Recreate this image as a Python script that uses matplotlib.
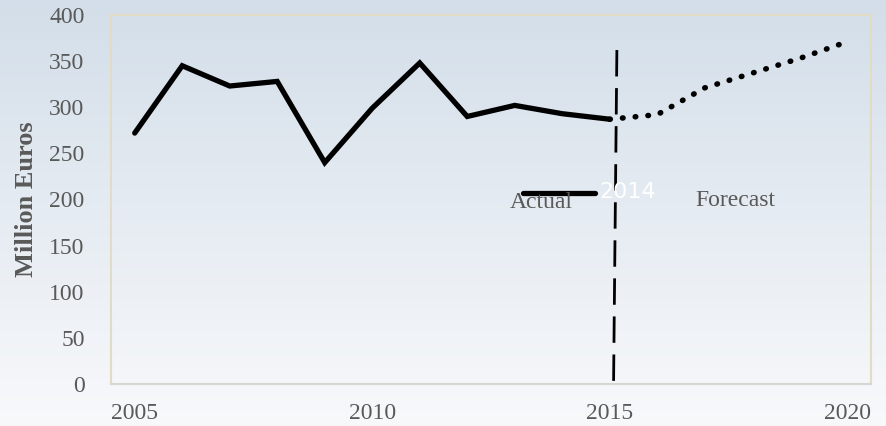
import numpy as np
import matplotlib.pyplot as plt

years_actual = [2005, 2006, 2007, 2008, 2009, 2010, 2011, 2012, 2013, 2014, 2015]
actual = [272, 345, 323, 328, 240, 299, 348, 290, 302, 293, 287]
years_forecast = [2015, 2016, 2017, 2018, 2019, 2020]
forecast = [287, 292, 321, 337, 353, 371]
xticks = [2005, 2010, 2015, 2020]
yticks = [0, 50, 100, 150, 200, 250, 300, 350, 400]

plt.rcParams['font.family'] = ['Liberation Serif', 'DejaVu Serif']

fig = plt.figure(figsize=(8.87, 4.26), dpi=100)

# gradient background over whole figure
bg = fig.add_axes([0, 0, 1, 1], zorder=-10)
grad = np.linspace(0, 1, 256).reshape(-1, 1)
top = np.array([0.827, 0.871, 0.914])
bot = np.array([0.973, 0.976, 0.984])
img = top + (bot - top) * grad[:, :, None]
bg.imshow(img, aspect='auto', extent=[0, 1, 0, 1])
bg.axis('off')

ax = fig.add_axes([0.1251, 0.0986, 0.8569, 0.8662])
ax.patch.set_alpha(0)

ax.plot(years_actual, actual, color='black', lw=3.8, solid_joinstyle='miter',
        solid_capstyle='round')
ax.plot(years_forecast, forecast, color='black', lw=4.0,
        linestyle=(0, (0.1, 2.2)), dash_capstyle='round')

# divider between actual and forecast
ax.plot([2015.15, 2015.08], [362, 0], color='black', lw=2.0,
        linestyle=(0, (9.5, 4.2)), dash_capstyle='butt')

# legend-like annotations
ax.plot([2013.17, 2014.68], [207, 207], color='black', lw=3.8,
        solid_capstyle='round')
ax.text(2013.55, 197, 'Actual', ha='center', va='center', fontsize=17,
        color='#595959')
ax.text(2015.38, 208, '2014', ha='center', va='center', fontsize=16,
        color='white', family='DejaVu Sans')
ax.text(2017.65, 199, 'Forecast', ha='center', va='center', fontsize=17,
        color='#595959')

ax.set_xlim(2004.5, 2020.5)
ax.set_ylim(0, 400)
ax.set_xticks(xticks)
ax.set_yticks(yticks)
ax.tick_params(length=0, labelsize=17, labelcolor='#595959')
ax.tick_params(axis='y', pad=19)
ax.tick_params(axis='x', pad=14)

for side in ['left', 'top', 'right']:
    ax.spines[side].set_color('#e2dcc6')
    ax.spines[side].set_linewidth(1.5)
ax.spines['bottom'].set_color('#d6d6d2')
ax.spines['bottom'].set_linewidth(1.5)

ax.set_ylabel('Million Euros', fontsize=19, fontweight='bold', color='#595959',
              labelpad=8)

fig.savefig('out.png', dpi=100)
